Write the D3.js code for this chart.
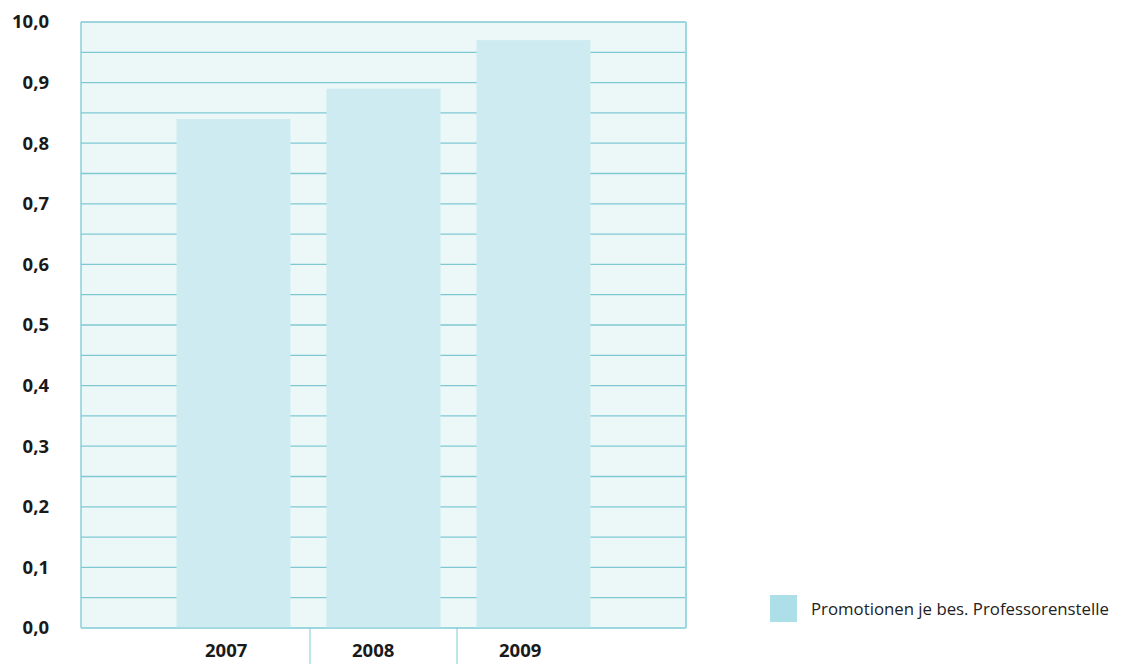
<!DOCTYPE html>
<html>
<head>
<meta charset="utf-8">
<script src="https://cdn.jsdelivr.net/npm/d3@7"></script>
<style>
  body { margin: 0; background: #fff; }
  text { font-family: "Open Sans", "Noto Sans", sans-serif; }
</style>
</head>
<body>
<div id="chart"></div>
<script>
// Data
const years = ["2007", "2008", "2009"];
const promotions = [0.84, 0.89, 0.97];
const yTicks = [0, 0.1, 0.2, 0.3, 0.4, 0.5, 0.6, 0.7, 0.8, 0.9, 1.0];
const yTickLabels = ["0,0", "0,1", "0,2", "0,3", "0,4", "0,5", "0,6", "0,7", "0,8", "0,9", "10,0"];
const seriesName = "Promotionen je bes. Professorenstelle";

const data = years.map((y, i) => ({ year: y, value: promotions[i] }));

const W = 1129, H = 664;
const margin = { top: 22, right: 443, bottom: 36, left: 81 };
const width = W - margin.left - margin.right;
const height = H - margin.top - margin.bottom;

const svg = d3.select("#chart").append("svg")
    .attr("width", W)
    .attr("height", H);

const g = svg.append("g")
    .attr("transform", "translate(" + margin.left + "," + margin.top + ")");

const x = d3.scaleBand()
    .domain(years)
    .range([0, width])
    .paddingInner(0.24)
    .paddingOuter(0.637);

// category cells under the axis (label row) are slightly offset from the bars
const xCell = d3.scaleBand()
    .domain(years)
    .range([82, 523]);

const y = d3.scaleLinear()
    .domain([0, 1])
    .range([height, 0]);

// plot background
g.append("rect")
    .attr("width", width)
    .attr("height", height)
    .attr("fill", "#ecf8f8");

// gridlines every 0.05
const grid = d3.range(0, 21).map(i => i * 0.05);
g.append("g")
    .selectAll("line")
    .data(grid)
    .enter().append("line")
    .attr("x1", 0)
    .attr("x2", width)
    .attr("y1", d => y(d))
    .attr("y2", d => y(d))
    .attr("stroke", "#7fc8d3")
    .attr("stroke-width", 1.3);

// bars
g.append("g")
    .selectAll("rect")
    .data(data)
    .enter().append("rect")
    .attr("x", d => x(d.year))
    .attr("y", d => y(d.value))
    .attr("width", x.bandwidth())
    .attr("height", d => height - y(d.value))
    .attr("fill", "#cdebf0");

// left and right borders
g.append("line")
    .attr("x1", 0).attr("x2", 0)
    .attr("y1", 0).attr("y2", height)
    .attr("stroke", "#7fc8d3").attr("stroke-width", 1.3);
g.append("line")
    .attr("x1", width).attr("x2", width)
    .attr("y1", 0).attr("y2", height)
    .attr("stroke", "#9dd8e0").attr("stroke-width", 2);

// bottom baseline redrawn on top of bars
g.append("line")
    .attr("x1", 0).attr("x2", width)
    .attr("y1", height).attr("y2", height)
    .attr("stroke", "#9dd8e0").attr("stroke-width", 1.5);

// dividers between categories below axis
g.append("g")
    .selectAll("line")
    .data(years.slice(1))
    .enter().append("line")
    .attr("x1", d => xCell(d))
    .attr("x2", d => xCell(d))
    .attr("y1", height)
    .attr("y2", height + margin.bottom)
    .attr("stroke", "#7fc8d3")
    .attr("stroke-width", 1);

// y labels
g.append("g")
    .selectAll("text")
    .data(yTicks)
    .enter().append("text")
    .attr("x", -32)
    .attr("y", d => y(d))
    .attr("dy", "0.35em")
    .attr("text-anchor", "end")
    .style("font-size", "18.5px")
    .style("font-weight", "bold")
    .attr("fill", "#1a1a1a")
    .text((d, i) => yTickLabels[i]);

// x labels
g.append("g")
    .selectAll("text")
    .data(years)
    .enter().append("text")
    .attr("x", d => xCell(d) + xCell.bandwidth() * 0.43)
    .attr("y", height + 29)
    .attr("text-anchor", "middle")
    .style("font-size", "18.5px")
    .style("font-weight", "bold")
    .attr("fill", "#1a1a1a")
    .text(d => d);

// legend
const legend = svg.append("g")
    .attr("transform", "translate(770,595)");
legend.append("rect")
    .attr("width", 27)
    .attr("height", 27)
    .attr("fill", "#acdfe7");
legend.append("text")
    .attr("x", 41)
    .attr("y", 20)
    .style("font-size", "16.8px")
    .attr("fill", "#222")
    .text(seriesName);
</script>
</body>
</html>
